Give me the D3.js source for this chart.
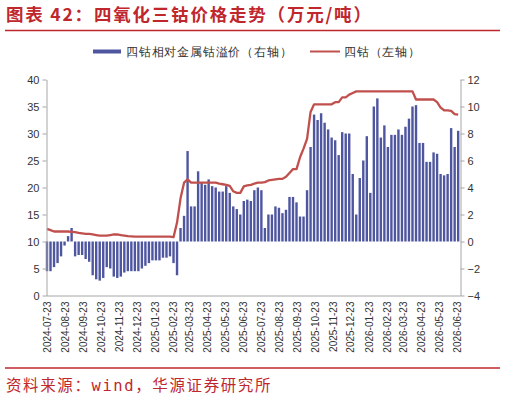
<!DOCTYPE html>
<html>
<head>
<meta charset="utf-8">
<script src="https://cdn.jsdelivr.net/npm/d3@7"></script>
<style>
  body { margin: 0; background: #fff; }
  svg text { font-family: "Liberation Sans", Arial, sans-serif; }
</style>
</head>
<body>
<div id="canvas"></div>
<script>
// one point every 6 days from 2024-07-23
const startDate = '2024-07-23';
const stepDays = 6;

// 四钴相对金属钴溢价 (右轴, 万元/吨)
const premiumValues = [
  -2.2, -2.2, -1.9, -1.6, -1.1, -0.3, 0.4, 1.0, -1.1, -1.0,
  -1.0, -1.3, -1.5, -2.5, -2.8, -2.9, -2.7, -1.9, -2.0, -2.6,
  -2.7, -2.6, -2.3, -2.2, -2.2, -2.2, -2.2, -2.0, -1.8, -1.6,
  -1.4, -1.4, -1.4, -1.2, -1.2, -1.1, -1.6, -2.5, 1.0, 1.9,
  6.7, 2.6, 2.6, 5.2, 4.4, 4.2, 4.6, 4.1, 4.0, 3.7,
  3.7, 4.1, 3.6, 2.6, 2.4, 2.0, 3.0, 3.1, 3.0, 3.8,
  4.0, 3.8, 1.0, 2.0, 2.0, 2.6, 2.5, 2.1, 2.35, 3.3,
  3.3, 2.9, 1.85, 1.85, 3.8, 7.0, 9.4, 9.0, 9.5, 8.8,
  8.3, 7.7, 7.5, 6.4, 8.1, 8.0, 8.0, 5.0, 2.0, 4.7,
  6.0, 7.8, 3.6, 10.0, 10.6, 7.7, 8.6, 7.0, 7.9, 7.9,
  8.3, 7.9, 8.5, 9.1, 10.0, 10.1, 7.3, 7.3, 5.9, 5.9,
  6.6, 6.5, 5.0, 4.9, 5.0, 8.4, 7.0, 8.2
];

// 四钴 (左轴, 万元/吨)
const cobaltValues = [
  12.35, 12.1, 11.85, 11.85, 11.85, 11.85, 11.85, 11.8, 11.75, 11.6,
  11.5, 11.4, 11.4, 11.3, 11.2, 11.1, 11.1, 11.1, 11.2, 11.3,
  11.3, 11.2, 11.1, 11.0, 10.95, 10.9, 10.9, 10.9, 10.9, 10.9,
  10.9, 10.9, 10.9, 10.9, 10.9, 10.9, 10.8, 13.5, 18.0, 20.9,
  21.5, 20.9, 20.9, 20.9, 20.9, 20.9, 20.9, 20.9, 20.9, 20.7,
  20.6, 20.5, 20.3, 19.3, 19.0, 19.0, 20.2, 20.4, 20.5, 20.7,
  20.9, 20.9, 21.0, 21.3, 21.4, 21.5, 21.6, 21.6, 22.0, 22.7,
  23.4, 23.4, 25.6, 27.2, 29.0, 34.0, 35.4, 35.4, 35.4, 35.4,
  35.4, 35.4, 35.8, 35.8, 36.7, 36.7, 37.2, 37.5, 37.8, 37.8,
  37.8, 37.8, 37.8, 37.8, 37.8, 37.8, 37.8, 37.8, 37.8, 37.8,
  37.8, 37.8, 37.8, 37.8, 37.8, 36.3, 36.3, 36.3, 36.3, 36.3,
  36.3, 35.8, 34.8, 34.3, 34.3, 34.2, 33.6, 33.5
];

const xTickLabels = [
  '2024-07-23', '2024-08-23', '2024-09-23', '2024-10-23', '2024-11-23', '2024-12-23',
  '2025-01-23', '2025-02-23', '2025-03-23', '2025-04-23', '2025-05-23', '2025-06-23',
  '2025-07-23', '2025-08-23', '2025-09-23', '2025-10-23', '2025-11-23', '2025-12-23',
  '2026-01-23', '2026-02-23', '2026-03-23', '2026-04-23', '2026-05-23', '2026-06-23'
];
const leftTicks = [0, 5, 10, 15, 20, 25, 30, 35, 40];
const rightTicks = [-4, -2, 0, 2, 4, 6, 8, 10, 12];

const red = '#c0504d';
const blue = '#4f56a0';
const titleRed = '#c0272d';
const axisGray = '#a6a6a6';

const W = 506, H = 402;
const parse = d3.timeParse('%Y-%m-%d');
const t0 = parse(startDate);
const dates = premiumValues.map((v, i) => d3.timeDay.offset(t0, i * stepDays));

const svg = d3.select('#canvas').append('svg')
  .attr('width', W)
  .attr('height', H);

// title and rules
svg.append('text')
  .attr('x', 6).attr('y', 21)
  .style('font-family', '"Noto Sans CJK SC", sans-serif')
  .style('font-size', '17.5px')
  .style('font-weight', 'bold')
  .style('letter-spacing', '1.8px')
  .style('fill', titleRed)
  .text('图表 42：四氧化三钴价格走势（万元/吨）');

svg.append('line')
  .attr('x1', 5).attr('x2', 500).attr('y1', 30.5).attr('y2', 30.5)
  .style('stroke', titleRed).style('stroke-width', 1.5);

svg.append('line')
  .attr('x1', 5).attr('x2', 500).attr('y1', 368).attr('y2', 368)
  .style('stroke', titleRed).style('stroke-width', 1.5);

svg.append('text')
  .attr('x', 6).attr('y', 391)
  .style('font-family', '"DejaVu Sans Mono", "Noto Sans CJK SC", monospace')
  .style('font-size', '15.5px')
  .style('letter-spacing', '1.6px')
  .style('fill', titleRed)
  .text('资料来源：wind，华源证券研究所');

// legend
const legend = svg.append('g')
  .style('font-family', '"Noto Sans CJK SC", sans-serif')
  .style('font-size', '12px')
  .style('letter-spacing', '0.8px')
  .style('fill', '#333');
legend.append('rect')
  .attr('x', 93).attr('y', 49.5).attr('width', 28).attr('height', 4)
  .style('fill', blue);
legend.append('text').attr('x', 126).attr('y', 56).text('四钴相对金属钴溢价（右轴）');
legend.append('line')
  .attr('x1', 310).attr('x2', 340).attr('y1', 51.5).attr('y2', 51.5)
  .style('stroke', red).style('stroke-width', 2);
legend.append('text').attr('x', 344).attr('y', 56).text('四钴（左轴）');

// scales
const plotLeft = 46.5, plotRight = 460.5, plotTop = 79.5, plotBottom = 295.5;

const x = d3.scaleTime()
  .domain([parse(xTickLabels[0]), parse(xTickLabels[xTickLabels.length - 1])])
  .range([47, 457]);

const yLeft = d3.scaleLinear().domain([0, 40]).range([plotBottom, plotTop]);
const yRight = d3.scaleLinear().domain([-4, 12]).range([plotBottom, plotTop]);

// bars
const barW = 2.4;
svg.append('g')
  .selectAll('rect')
  .data(premiumValues)
  .enter()
  .append('rect')
    .attr('x', (d, i) => x(dates[i]) - barW / 2)
    .attr('y', d => yRight(Math.max(0, d)))
    .attr('width', barW)
    .attr('height', d => Math.abs(yRight(d) - yRight(0)))
    .style('fill', blue);

// line
const line = d3.line()
  .x((d, i) => x(dates[i]))
  .y(d => yLeft(d));

svg.append('path')
  .datum(cobaltValues)
  .attr('d', line)
  .style('fill', 'none')
  .style('stroke', red)
  .style('stroke-width', 2.3)
  .style('stroke-linejoin', 'round');

// axes
const styleAxis = g => {
  g.select('.domain').style('stroke', axisGray);
  g.selectAll('.tick line').style('stroke', axisGray);
  g.selectAll('.tick text')
    .style('fill', '#333')
    .style('font-family', '"Liberation Sans", Arial, sans-serif')
    .style('font-size', '11px');
};

svg.append('g')
  .attr('transform', 'translate(' + plotLeft + ',0)')
  .call(d3.axisLeft(yLeft).tickValues(leftTicks).tickSize(4).tickSizeOuter(0).tickPadding(3))
  .call(styleAxis);

svg.append('g')
  .attr('transform', 'translate(' + plotRight + ',0)')
  .call(d3.axisRight(yRight).tickValues(rightTicks).tickSize(4).tickSizeOuter(0).tickPadding(3))
  .call(styleAxis);

const xAxis = svg.append('g')
  .attr('transform', 'translate(0,' + plotBottom + ')')
  .call(d3.axisBottom(x)
    .tickValues(xTickLabels.map(parse))
    .tickFormat(d3.timeFormat('%Y-%m-%d'))
    .tickSize(0)
    .tickSizeOuter(0))
  .call(styleAxis);
xAxis.select('.domain').attr('d', 'M' + plotLeft + ',0.5H' + plotRight);
xAxis.selectAll('.tick text')
  .style('font-size', '10px')
  .attr('transform', 'rotate(-90)')
  .attr('text-anchor', 'end')
  .attr('x', -6)
  .attr('y', 0)
  .attr('dy', '0.35em');
</script>
</body>
</html>
